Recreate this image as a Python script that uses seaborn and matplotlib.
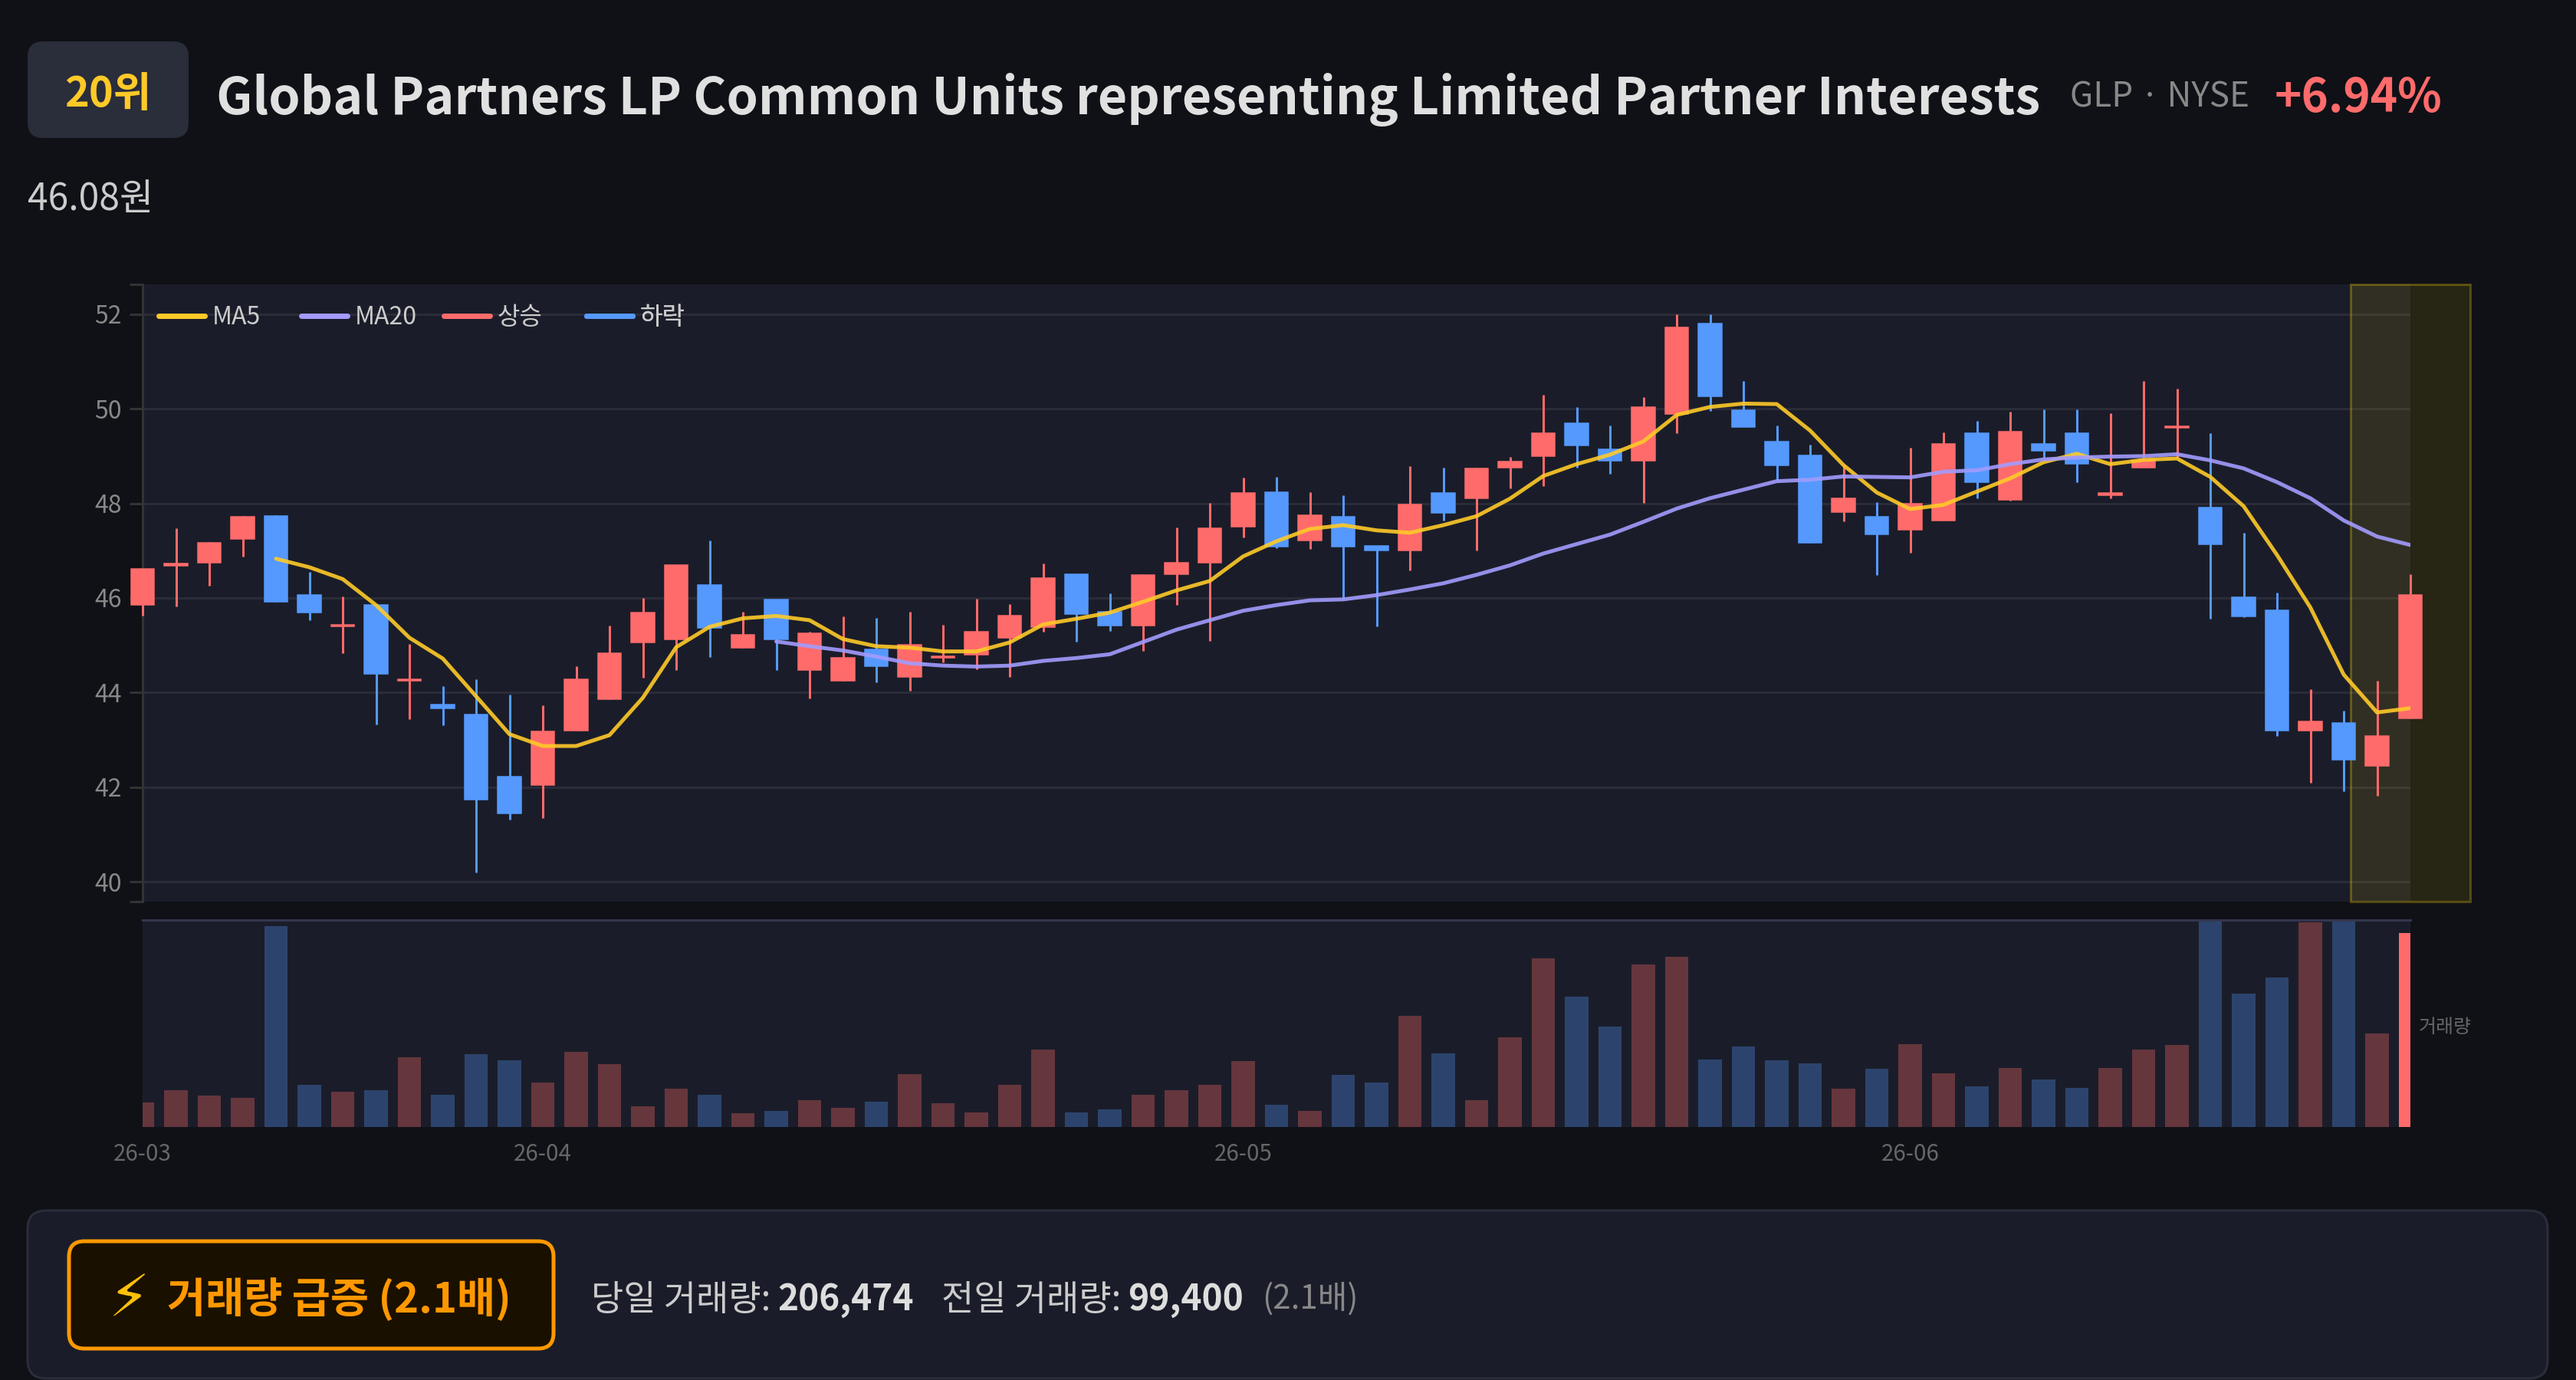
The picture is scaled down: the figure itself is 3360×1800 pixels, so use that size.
import matplotlib
matplotlib.use("Agg")
import matplotlib.pyplot as plt
from matplotlib.lines import Line2D
from matplotlib.patches import FancyBboxPatch, Rectangle
import numpy as np
import pandas as pd
import seaborn as sns

# ---------- data ----------
opens = [45.85,46.68,46.74,47.25,47.73,46.07,45.40,45.85,44.25,43.75,43.54,42.22,42.04,43.20,43.86,45.06,45.13,46.27,44.94,45.97,44.47,44.25,44.92,
         44.33,44.73,44.80,45.15,45.39,46.50,45.70,45.42,46.51,46.75,47.50,48.23,47.21,47.71,47.10,47.00,48.22,48.11,48.75,49.00,49.69,49.14,48.90,
         49.89,51.81,49.97,49.31,49.02,47.82,47.71,47.45,47.64,49.49,48.07,49.25,49.48,48.18,48.76,49.60,47.92,46.02,45.74,43.20,43.36,42.45,43.45]
closes = [46.62,46.73,47.16,47.72,45.92,45.69,45.44,44.40,44.28,43.67,41.73,41.44,43.18,44.28,44.83,45.69,46.69,45.37,45.22,45.13,45.25,44.73,44.56,
          45.01,44.77,45.29,45.62,46.42,45.66,45.42,46.48,46.74,47.47,48.22,47.09,47.75,47.09,47.00,47.98,47.80,48.74,48.89,49.48,49.23,48.90,50.04,
          51.72,50.26,49.62,48.80,47.17,48.10,47.34,48.00,49.25,48.45,49.51,49.11,48.84,48.22,48.91,49.63,47.14,45.61,43.20,43.39,42.58,43.08,46.07]
highs = [46.62,47.48,47.19,47.74,47.75,46.55,46.04,45.85,45.02,44.14,44.28,43.95,43.73,44.56,45.42,46.00,46.69,47.22,45.70,45.97,45.28,45.61,45.58,
         45.70,45.44,45.99,45.87,46.73,46.50,46.09,46.50,47.49,48.01,48.54,48.56,48.23,48.18,47.10,48.78,48.75,48.75,48.99,50.29,50.04,49.64,50.24,
         52.00,52.00,50.58,49.65,49.24,48.78,48.03,49.17,49.50,49.75,49.94,49.99,49.99,49.91,50.58,50.43,49.49,47.38,46.12,44.07,43.62,44.25,46.51]
lows = [45.62,45.82,46.26,46.87,45.92,45.53,44.83,43.32,43.44,43.31,40.19,41.32,41.35,43.20,43.86,44.32,44.47,44.75,44.94,44.47,43.88,44.25,44.22,
        44.03,44.64,44.49,44.33,45.29,45.08,45.30,44.88,45.86,45.09,47.28,47.06,47.04,45.98,45.40,46.59,47.64,47.00,48.32,48.36,48.76,48.63,48.01,
        49.49,49.95,49.62,48.50,47.16,47.62,46.49,46.96,47.63,48.11,48.06,48.96,48.44,48.10,48.75,48.96,45.57,45.59,43.08,42.09,41.92,41.81,43.45]
ma5 = [46.83,46.65,46.40,45.85,45.16,44.72,43.92,43.12,42.87,42.87,43.10,43.89,44.96,45.39,45.57,45.62,45.53,45.13,44.98,44.95,44.87,44.87,45.06,
       45.44,45.56,45.69,45.92,46.16,46.36,46.88,47.20,47.46,47.54,47.43,47.38,47.54,47.73,48.10,48.58,48.83,49.03,49.31,49.87,50.04,50.11,50.10,
       49.54,48.81,48.23,47.88,47.97,48.25,48.53,48.87,49.05,48.83,48.92,48.95,48.56,47.94,46.91,45.80,44.38,43.58,43.67]
ma20 = [45.08,44.98,44.89,44.76,44.62,44.57,44.55,44.57,44.67,44.73,44.81,45.07,45.33,45.53,45.73,45.85,45.95,45.97,46.06,46.18,46.31,46.49,46.69,
        46.94,47.14,47.34,47.61,47.89,48.11,48.29,48.47,48.50,48.57,48.56,48.55,48.67,48.70,48.83,48.93,48.97,48.99,49.00,49.04,48.91,48.74,48.45,
        48.11,47.64,47.30,47.12]
volumes = [26100,38900,33700,31000,213600,45100,37200,39400,73900,34200,77400,70900,47300,79900,66600,21700,40800,34200,14700,17400,28500,20400,26900,
           56000,25300,15800,44800,82100,15500,18700,34500,38900,44600,70100,23600,16800,55200,47000,117900,78500,28500,95100,179000,138800,106800,172800,
           180700,72000,85300,70900,67400,40800,61700,87800,56800,42900,63000,50500,41300,62500,82300,87500,230000,141600,159200,217900,235000,99400,206474]
price_ticks = [40,42,44,46,48,50,52]
month_labels = ["26-03","26-04","26-05","26-06"]
month_index = [0,12,33,53]
series_names = ["MA5","MA20","상승","하락"]

# ---------- style ----------
PAGE="#0f1117"; PANEL="#1a1d29"; RED="#ff6b6b"; BLUE="#5599ff"; YEL="#ffca28"; PUR="#a29bfe"
sns.set_theme(style="dark")
plt.rcParams["font.family"] = ["Noto Sans CJK KR","DejaVu Sans"]
W,H = 3360,1800
PT = 0.72  # px to pt at dpi 100
fig = plt.figure(figsize=(W/100,H/100),dpi=100,facecolor=PAGE)

bg = fig.add_axes([0,0,1,1],facecolor=PAGE,zorder=0)
bg.set_xlim(0,W); bg.set_ylim(H,0); bg.axis("off")

def rect(ax0,x0,y0,x1,y1,r,fc,ec,lw):
    ax0.add_patch(FancyBboxPatch((x0,y0),x1-x0,y1-y0,boxstyle=f"round,pad=0,rounding_size={r}",fc=fc,ec=ec,lw=lw*PT))
def txt(x,y,s,px,color,weight="normal",ha="left",family=None):
    kw={"family":family} if family else {}
    return bg.text(x,y,s,fontsize=px*PT,color=color,fontweight=weight,ha=ha,va="center_baseline",**kw)

# header
rect(bg,36,54,246,180,20,"#2a2d3a","none",0)
txt(141,118,"20위",54,YEL,"bold",ha="center")
txt(282,122,"Global Partners LP Common Units representing Limited Partner Interests",66.2,"#e0e0e0","bold")
txt(2700,122,"GLP · NYSE",44,"#888888")
txt(2967,122,"+6.94%",60,RED,"bold")
txt(36,255,"46.08원",48,"#cccccc")

# bottom panel
rect(bg,36,1579,3323,1798,24,PANEL,"#2a2d3a",3)
rect(bg,90,1619,722,1759,20,"#1a1000","#ff9800",5)
txt(168,1688,"⚡",76,"#ffc107",ha="center",family="DejaVu Sans")
txt(218,1690,"거래량 급증 (2.1배)",54.5,"#ff9800","bold")
txt(771,1690,"당일 거래량:",46,"#cccccc")
txt(1014,1690,"206,474",46,"#dddddd","bold")
txt(1228,1690,"전일 거래량:",46,"#cccccc")
txt(1471,1690,"99,400",46,"#dddddd","bold")
txt(1646,1690,"(2.1배)",42,"#888888")
txt(3155,1337,"거래량",25,"#666666")

# ---------- price axes ----------
ax = fig.add_axes([186/W,1-1176/H,(3144-186)/W,(1176-371)/H],facecolor=PANEL,zorder=2)
idx = np.arange(len(closes))
o,c,h,l = map(np.array,(opens,closes,highs,lows))
up = c>=o
colors = np.where(up,RED,BLUE)
ax.set_xlim(0,68)
ylo,yhi = 39.58,52.63
ax.set_ylim(ylo,yhi)
ax.add_patch(Rectangle((66.2,ylo),3.6,yhi-ylo,fc="#ffd700",alpha=0.10,ec="none",clip_on=False,zorder=1.5))
ax.add_patch(Rectangle((66.2,ylo),3.6,yhi-ylo,fc="none",ec="#ffd700",alpha=0.28,lw=3*PT,clip_on=False,zorder=1.6))
ax.vlines(idx,l,h,colors=colors,lw=3*PT,zorder=3,clip_on=False)
ax.bar(idx,np.abs(c-o),bottom=np.minimum(o,c),width=0.70,color=colors,edgecolor=colors,lw=1.5*PT,zorder=3.2,clip_on=False)
sns.lineplot(x=idx[4:],y=ma5,ax=ax,color=YEL,alpha=0.9,lw=5*PT,estimator=None,errorbar=None,legend=False,zorder=4)
sns.lineplot(x=idx[19:],y=ma20,ax=ax,color=PUR,alpha=0.9,lw=5*PT,estimator=None,errorbar=None,legend=False,zorder=4)
ax.set_xlabel(""); ax.set_ylabel("")
ax.set_xticks([])
ax.set_yticks(price_ticks)
ax.set_yticks([ylo,yhi],minor=True)
ax.grid(False)
ax.yaxis.grid(True,which="major",color="#2a2c38",lw=3*PT)
ax.set_axisbelow(True)
for s in ("top","right","bottom"): ax.spines[s].set_visible(False)
ax.spines["left"].set_color("#333333"); ax.spines["left"].set_linewidth(3*PT)
ax.tick_params(axis="y",which="both",left=True,length=17*PT,width=3*PT,color="#333333",labelcolor="#888888",labelsize=32*PT,pad=10*PT)
for lbl in ax.get_yticklabels():
    lbl.set_verticalalignment("center_baseline")
ax.set_xlim(0,68); ax.set_ylim(ylo,yhi)

# legend
handles = [Line2D([],[],color=YEL,lw=7*PT,solid_capstyle="round",label=series_names[0]),
           Line2D([],[],color=PUR,lw=7*PT,solid_capstyle="round",label=series_names[1]),
           Line2D([],[],color=RED,lw=7*PT,solid_capstyle="round",label=series_names[2]),
           Line2D([],[],color=BLUE,lw=7*PT,solid_capstyle="round",label=series_names[3])]
for hd,xp in zip(handles,(207,393,579,765)):
    lg = ax.legend(handles=[hd],loc="center left",bbox_to_anchor=(xp,414),bbox_transform=bg.transData,frameon=False,
                   fontsize=32*PT,handlelength=60/32,handletextpad=10/32,borderpad=0,borderaxespad=0,labelcolor="#cccccc")
    ax.add_artist(lg)

# ---------- volume axes ----------
axv = fig.add_axes([186/W,1-1470/H,(3144-186)/W,(1470-1200)/H],facecolor=PANEL,zorder=2)
kinds = np.where(up,"up","down").astype(object); kinds[-1]="last"
vdf = pd.DataFrame({"i":idx,"v":volumes,"k":kinds})
sns.barplot(data=vdf,x="i",y="v",hue="k",palette={"up":"#66363d","down":"#2c446d","last":RED},dodge=False,native_scale=True,
            width=0.71,saturation=1,legend=False,linewidth=0,edgecolor="none",ax=axv)
axv.set_xlim(0,68); axv.set_ylim(0,220000)
axv.set_xlabel(""); axv.set_ylabel(""); axv.set_yticks([])
axv.set_xticks(month_index); axv.set_xticklabels(month_labels)
axv.tick_params(axis="x",length=0,labelcolor="#666666",labelsize=29.5*PT,pad=20*PT)
axv.grid(False)
for s in ("left","right","bottom"): axv.spines[s].set_visible(False)
axv.spines["top"].set_color("#33364f"); axv.spines["top"].set_linewidth(3*PT)

fig.savefig("out.png",dpi=100,facecolor=PAGE)
